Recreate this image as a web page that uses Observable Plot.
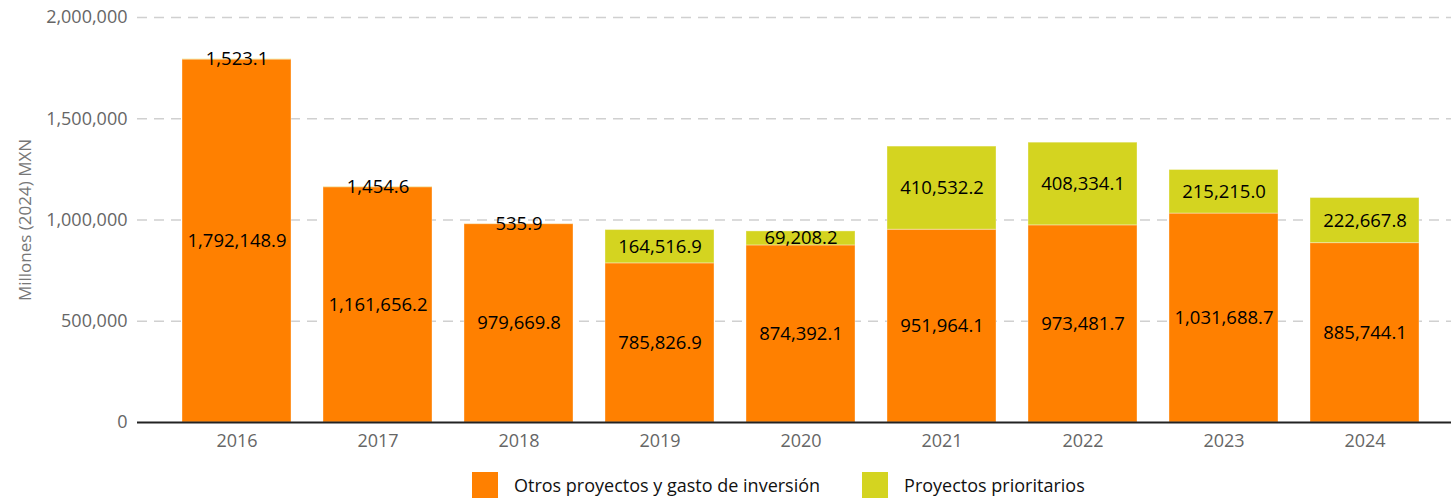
<!DOCTYPE html>
<html>
<head>
<meta charset="utf-8">
<script src="https://cdn.jsdelivr.net/npm/d3@7"></script>
<script src="https://cdn.jsdelivr.net/npm/@observablehq/plot@0.6"></script>
<style>
  html, body { margin: 0; padding: 0; background: #fff; }
  body { width: 1451px; height: 498px; overflow: hidden; font-family: "Open Sans", sans-serif; }
  #legend { display: flex; align-items: center; margin-left: 472px; margin-top: 12px; font-size: 18px; color: #111; }
  .item { display: flex; align-items: center; margin-right: 42px; }
  .sw { width: 26px; height: 26px; margin-right: 16px; }
</style>
</head>
<body>
<div id="chart"></div>
<div id="legend"></div>
<script>
const years = ["2016","2017","2018","2019","2020","2021","2022","2023","2024"];
const otros = [1792148.9, 1161656.2, 979669.8, 785826.9, 874392.1, 951964.1, 973481.7, 1031688.7, 885744.1];
const prioritarios = [1523.1, 1454.6, 535.9, 164516.9, 69208.2, 410532.2, 408334.1, 215215.0, 222667.8];
const seriesNames = ["Otros proyectos y gasto de inversión", "Proyectos prioritarios"];
const seriesColors = ["#ff8000", "#d4d420"];
const yTicks = [0, 500000, 1000000, 1500000, 2000000];

const data = [];
years.forEach((y, i) => data.push({year: y, serie: seriesNames[0], value: otros[i]}));
years.forEach((y, i) => data.push({year: y, serie: seriesNames[1], value: prioritarios[i]}));

const fmt = d3.format(",.1f");

const chart = Plot.plot({
  width: 1451,
  height: 460,
  marginTop: 17,
  marginBottom: 38,
  marginLeft: 137,
  marginRight: 0,
  style: {fontFamily: "Open Sans, sans-serif", fontSize: "18px"},
  x: {domain: years, padding: 0.23, insetLeft: 12, label: null},
  y: {domain: [0, 2000000], ticks: yTicks, label: null},
  color: {domain: seriesNames, range: seriesColors},
  marks: [
    Plot.gridY(yTicks.slice(1), {stroke: "#d0d0d0", strokeOpacity: 1, strokeWidth: 1.5, strokeDasharray: "10,7"}),
    Plot.barY(data, {x: "year", y: "value", fill: "serie", stroke: "#fff", strokeOpacity: 0.35, strokeWidth: 1, order: seriesNames}),
    Plot.text(data, Plot.stackY({x: "year", y: "value", z: "serie", order: seriesNames, text: d => fmt(d.value), fill: "#000", fontSize: 18.5})),
    Plot.ruleY([0], {stroke: "#222", strokeWidth: 2}),
    Plot.axisY({ticks: yTicks, tickFormat: d3.format(","), tickSize: 0, tickPadding: 10, fill: "#666", fontSize: 18,
      label: "Millones (2024) MXN", labelAnchor: "center", labelArrow: "none", labelOffset: 119}),
    Plot.axisX({tickSize: 0, tickPadding: 12, fill: "#666", fontSize: 18, label: null})
  ]
});
document.getElementById("chart").appendChild(chart);
chart.querySelectorAll("[aria-label='y-axis label'] text, [aria-label='y-axis label']").forEach(e => { e.setAttribute("fill", "#777"); e.setAttribute("font-size", "17"); });

const legend = document.getElementById("legend");
seriesNames.forEach((n, i) => {
  const it = document.createElement("div");
  it.className = "item";
  const sw = document.createElement("div");
  sw.className = "sw";
  sw.style.background = seriesColors[i];
  const t = document.createElement("span");
  t.textContent = n;
  it.appendChild(sw); it.appendChild(t);
  legend.appendChild(it);
});
</script>
</body>
</html>
